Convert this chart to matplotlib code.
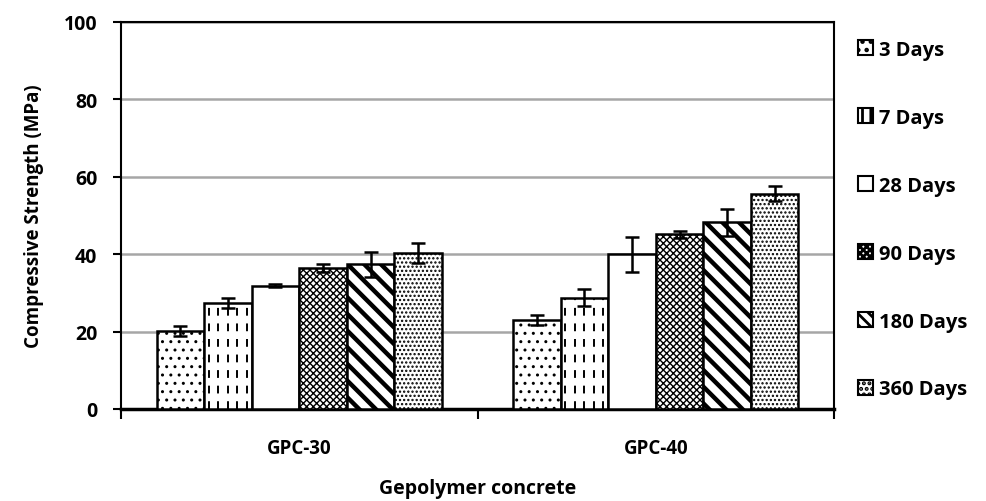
import numpy as np
import matplotlib
matplotlib.use("Agg")
import matplotlib.pyplot as plt

plt.rcParams['font.family'] = ['Open Sans', 'DejaVu Sans']
plt.rcParams['font.weight'] = 'bold'

groups = ['GPC-30', 'GPC-40']
ages = ['3 Days', '7 Days', '28 Days', '90 Days', '180 Days', '360 Days']
strength = {
    '3 Days':   [20.2, 23.0],
    '7 Days':   [27.4, 28.7],
    '28 Days':  [31.9, 40.0],
    '90 Days':  [36.5, 45.1],
    '180 Days': [37.4, 48.3],
    '360 Days': [40.3, 55.6],
}
errors = {
    '3 Days':   [1.3, 1.2],
    '7 Days':   [1.3, 2.2],
    '28 Days':  [0.4, 4.5],
    '90 Days':  [1.0, 1.0],
    '180 Days': [3.2, 3.5],
    '360 Days': [2.5, 1.9],
}
hatches = ['..', '', '', 'xxxxx', '\\\\', '....']
hatch_lw = [1.0, 1.0, 1.0, 1.0, 3.2, 1.1]

fig = plt.figure(figsize=(9.86, 5.02), dpi=100)
ax = fig.add_axes([121 / 986, 92 / 502, 713 / 986, 387 / 502])

x = np.arange(len(groups))
width = 0.8 / len(ages)
for i, age in enumerate(ages):
    pos = x - 0.4 + width * (i + 0.5)
    with plt.rc_context({'hatch.linewidth': hatch_lw[i]}):
        bars = ax.bar(pos, strength[age], width, color='white', edgecolor='black',
                      linewidth=1.8, hatch=hatches[i], label=age, zorder=3)
    if age == '7 Days':
        # dashed vertical fill for 7 days
        for b in bars:
            xs = b.get_x() + b.get_width() * np.array([0.1, 0.3, 0.5, 0.7, 0.9])
            lc = ax.vlines(xs, 0, b.get_height(), colors='black', linewidth=1.4,
                           linestyles=(0, (4, 4)), zorder=3.5)
            lc.set_clip_path(b)
    ax.errorbar(pos, strength[age], yerr=errors[age], fmt='none', ecolor='black',
                elinewidth=1.8, capsize=4.7, capthick=1.8, zorder=4)

ax.set_xlim(-0.5, len(groups) - 0.5)
ax.set_ylim(0, 100)
ax.set_yticks(range(0, 101, 20))
ax.yaxis.grid(True, color='#a6a6a6', linewidth=1.8, zorder=0)
ax.set_axisbelow(True)

ax.set_xticks(x)
ax.set_xticklabels(groups, fontsize=13.5, fontweight='bold')
ax.tick_params(axis='x', which='major', length=0, pad=21)
ax.set_xticks(np.arange(-0.5, len(groups), 1.0), minor=True)
ax.tick_params(axis='x', which='minor', length=7, width=1.5, direction='out')
ax.tick_params(axis='y', length=6, width=1.5, direction='out', labelsize=14, pad=11)
for lab in ax.get_yticklabels():
    lab.set_fontweight('bold')

for side in ['left', 'right', 'top']:
    ax.spines[side].set_linewidth(1.5)
ax.spines['bottom'].set_linewidth(2.5)

ax.set_ylabel('Compressive Strength (MPa)', fontsize=13.5, fontweight='bold', labelpad=14)
ax.set_xlabel('Gepolymer concrete', fontsize=14, fontweight='bold', labelpad=14)

with plt.rc_context({'hatch.linewidth': 2.0}):
    leg = ax.legend(loc='upper left', bbox_to_anchor=(1.02, 0.98), frameon=False,
                    prop={'size': 14.5, 'weight': 'bold'}, handlelength=0.75, handleheight=0.75,
                    handletextpad=0.3, labelspacing=2.38, borderaxespad=0.1)
for h, hp in zip(leg.legend_handles, ['..', '||', '', 'xxxxx', '\\\\\\', '...']):
    h.set_linewidth(1.5)
    h.set_hatch(hp)

fig.savefig('out.png', dpi=100)
